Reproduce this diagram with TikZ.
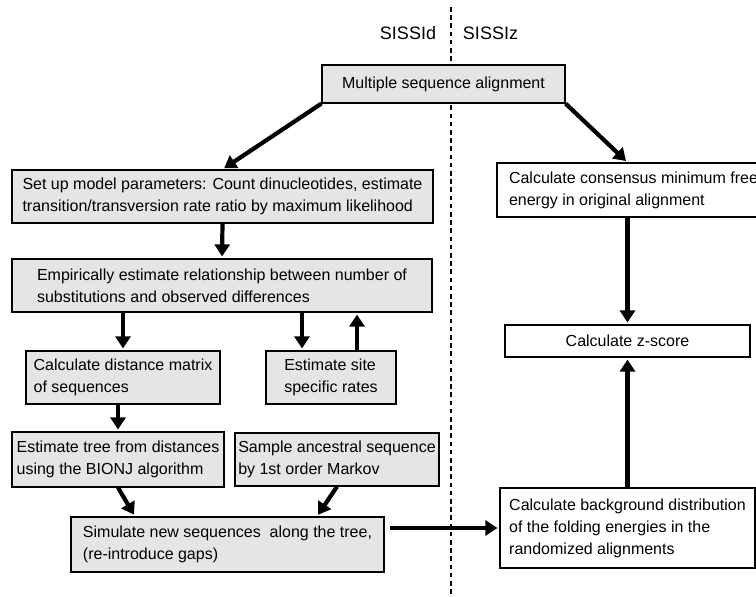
\documentclass[tikz,border=0pt]{standalone}
\usepackage{fontspec}
\setmainfont{Liberation Sans}
\usepackage{tikz}
\usetikzlibrary{arrows.meta}
\tikzstyle{proc}=[draw, fill=black!10, line width=0.6pt, align=left, inner sep=0pt, font=\fontsize{8}{11}\selectfont]
\tikzstyle{score}=[draw, fill=white, line width=0.6pt, align=left, inner sep=0pt, font=\fontsize{8}{11}\selectfont]
\tikzstyle{arr}=[line width=2.1pt, -{Triangle[length=6pt, width=7.5pt]}, shorten >=1pt]
\tikzstyle{side}=[font=\fontsize{9}{11}\selectfont, inner sep=0pt]

\begin{document}
\begin{tikzpicture}[x=0.5pt, y=-0.5pt]
                    \clip (0, 0) rectangle (756, 597);
                    \coordinate (divtop) at (451, 7);
                    \coordinate (divbot) at (451, 597);
                    \draw[line width=0.9pt, dash pattern=on 2.3pt off 1.8pt] (divtop) -- (divbot);
                    \node[side] (sissid) at (408, 33) {SISSId};
                    \node[side] (sissiz) at (490.5, 33) {SISSIz};
                    % left column: SISSId
                    \node[proc, minimum width=121.5pt, minimum height=19pt]   (msa)        at (443.5, 84)    {Multiple sequence alignment};
                    \node[proc, minimum width=210.5pt, minimum height=26.5pt] (setup)      at (222.5, 196.5) {Set up model parameters: Count dinucleotides, estimate\\transition/transversion rate ratio by maximum likelihood};
                    \node[proc, minimum width=210pt, minimum height=26.5pt]   (empirical)  at (222, 285.5)   {Empirically estimate relationship between number of\\substitutions and observed differences};
                    \node[proc, minimum width=97pt, minimum height=26.5pt]    (distance)   at (123, 377.5)   {Calculate distance matrix\\of sequences};
                    \node[proc, minimum width=65pt, minimum height=26.5pt]    (site)       at (331, 377.5)   {Estimate site\\specific rates};
                    \node[proc, minimum width=106pt, minimum height=27.5pt]   (tree)       at (118, 459.5)   {Estimate tree from distances\\using the BIONJ algorithm};
                    \node[proc, minimum width=102pt, minimum height=26.5pt]   (sample)     at (337, 459.5)   {Sample ancestral sequence\\by 1st order Markov};
                    \node[proc, minimum width=156.5pt, minimum height=27.5pt] (simulate)   at (227.5, 544.5) {Simulate new sequences\ \ along the tree,\\(re-introduce gaps)};
                    % right column: SISSIz
                    \node[score, minimum width=136.5pt, minimum height=27pt]  (consensus)  at (633.5, 190)   {Calculate consensus minimum free\\energy in original alignment};
                    \node[score, minimum width=122.5pt, minimum height=16pt]  (zscore)     at (627.5, 341)   {Calculate z-score};
                    \node[score, minimum width=127.5pt, minimum height=40pt]  (background) at (627.5, 528)   {Calculate background distribution\\of the folding energies in the\\randomized alignments};
                    \draw[arr] (msa.south west) -- (setup.north);
                    \draw[arr] (msa.south east) -- (consensus.north -| zscore.north);
                    \draw[arr] (setup.south) -- (empirical.north);
                    \draw[arr] (empirical.south -| distance.north) -- (distance.north);
                    \draw[arr] (empirical.south -| 302, 0) -- (site.north -| 302, 0);
                    \draw[arr] (site.north -| 357, 0) -- (empirical.south -| 357, 0);
                    \draw[arr] (distance.south -| tree.north) -- (tree.north);
                    \draw[arr] (tree.south) -- (simulate.north -| 135, 0);
                    \draw[arr] (sample.south) -- (simulate.north -| 317, 0);
                    \draw[arr, shorten <=2.5pt] (simulate.east |- background.west) -- (background.west);
                    \draw[arr] (consensus.south -| zscore.north) -- (zscore.north);
                    \draw[arr] (background.north) -- (zscore.south);
                \end{tikzpicture}
\end{document}
